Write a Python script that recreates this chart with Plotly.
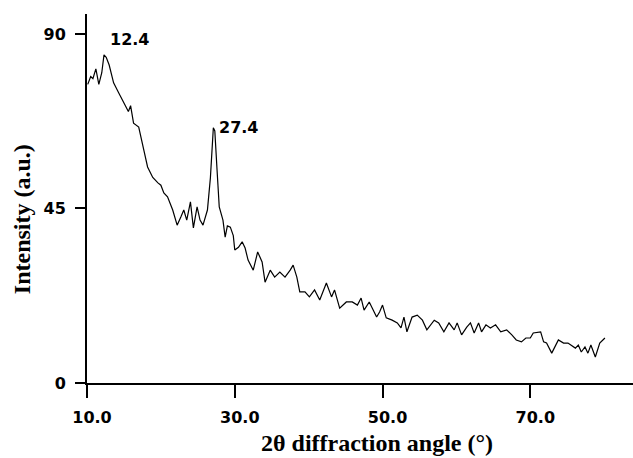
import plotly.graph_objects as go

two_theta = [10.1, 10.5, 10.8, 11.2, 11.6, 12.0, 12.3, 12.6, 13.0, 13.6, 14.3, 14.8, 15.2, 15.6, 15.9,
             16.3, 17.0, 17.4, 17.7, 18.2, 18.9, 19.6, 20.0, 20.4, 20.9, 21.6, 22.2, 22.7, 23.1, 23.5,
             24.0, 24.4, 24.9, 25.3, 25.7, 26.3, 26.7, 27.1, 27.3, 27.6, 27.9, 28.4, 28.7, 29.0, 29.4,
             29.8, 30.0, 30.5, 31.0, 31.4, 31.8, 32.5, 33.1, 33.7, 34.1, 34.8, 35.4, 36.1, 36.8, 37.5,
             37.9, 38.4, 38.8, 39.5, 40.1, 40.8, 41.5, 42.4, 43.1, 43.5, 44.2, 45.1, 45.9, 46.6, 47.1,
             47.5, 48.2, 49.2, 49.6, 50.0, 50.5, 51.3, 52.0, 52.5, 52.9, 53.3, 54.0, 54.7, 55.4, 56.0,
             57.0, 57.6, 58.3, 59.0, 59.7, 60.1, 60.7, 61.4, 61.9, 62.4, 63.0, 63.4, 64.0, 64.6, 65.3,
             66.0, 66.8, 67.5, 68.1, 68.8, 69.4, 70.0, 70.4, 71.4, 71.8, 72.2, 72.9, 73.8, 74.5, 75.1,
             76.1, 76.5, 76.9, 77.4, 77.8, 78.2, 78.8, 79.4, 80.1]
intensity = [77, 79, 78.5, 81, 77, 80, 84.6, 84, 82, 77.4, 74.8, 73, 71.2, 70, 71.5,
             67, 66, 63, 60, 55.7, 53, 51.6, 51, 49, 48, 44.6, 40.7, 42.8, 44.6, 42,
             46.7, 40, 45.4, 42, 40.7, 44.6, 52.9, 65.8, 65, 55, 45.4, 42, 37.6, 40.5, 40.2,
             38, 34.3, 35, 36.4, 34.8, 31.7, 29.1, 33.8, 31.2, 26, 29.1, 27.3, 28.6, 27.3, 29.1,
             30.4, 27.3, 23.5, 23.5, 22.2, 24, 21.4, 25.8, 22.2, 24, 19.3, 20.9, 20.9, 20.1, 21.9,
             18.8, 20.9, 17, 18.3, 20.1, 16.8, 16.2, 15.5, 14.2, 17, 13.2, 17, 17.5, 16.2, 13.7,
             16.2, 15.5, 13.2, 15.5, 13.7, 15.5, 12.4, 14.4, 15.5, 12.9, 15.5, 13.2, 15, 14.2, 15,
             13.2, 13.7, 12.4, 11.1, 10.6, 11.6, 11.6, 12.9, 13.2, 10.6, 10.3, 7.7, 11.1, 10.3, 10.3,
             9, 9.8, 8, 9.3, 7.7, 9.8, 6.7, 10.3, 11.6]

x_tick_vals = [10, 30, 50, 70]
x_tick_text = ["10.0", "30.0", "50.0", "70.0"]
y_tick_vals = [0, 45, 90]
y_tick_text = ["0", "45", "90"]

peak_x = [12.4, 27.4]
peak_y = [84.6, 65.8]
peak_text = ["12.4", "27.4"]

fig = go.Figure()
fig.add_trace(go.Scatter(x=two_theta, y=intensity, mode="lines",
                         line=dict(color="black", width=1.2), showlegend=False))

tick_font = dict(family="DejaVu Sans", size=16, color="black", weight="bold")
title_font = dict(family="Liberation Serif", size=24, color="black", weight="bold")

fig.update_xaxes(range=[10, 83.9], tickvals=x_tick_vals, ticktext=x_tick_text,
                 showgrid=False, zeroline=False, showline=True, linecolor="black", linewidth=2,
                 ticks="outside", ticklen=13, tickwidth=2, tickcolor="black",
                 tickfont=tick_font, ticklabelshift=5, ticklabelstandoff=6)
fig.update_yaxes(range=[0, 95.15], tickvals=y_tick_vals, ticktext=y_tick_text,
                 showgrid=False, zeroline=False, showline=True, linecolor="black", linewidth=2,
                 ticks="outside", ticklen=10, tickwidth=2, tickcolor="black",
                 tickfont=tick_font, ticklabelstandoff=6)

shifts = [(3.5, 15), (1.5, 0)]
for px, py, t, (dx, dy) in zip(peak_x, peak_y, peak_text, shifts):
    fig.add_annotation(x=px, y=py, text=t, showarrow=False, xanchor="left", yanchor="middle",
                       xshift=dx, yshift=dy, font=tick_font)

fig.add_annotation(xref="paper", yref="paper", x=0.531, y=-0.1626, text="2θ diffraction angle (°)",
                   showarrow=False, xanchor="center", yanchor="middle", font=title_font)
fig.add_annotation(xref="paper", yref="paper", x=-0.119, y=0.444, text="Intensity (a.u.)",
                   showarrow=False, xanchor="center", yanchor="middle", textangle=-90, font=title_font)

fig.update_layout(width=633, height=458, margin=dict(l=87, r=0, t=14, b=75),
                  plot_bgcolor="white", paper_bgcolor="white")

fig.write_html("out.html")
